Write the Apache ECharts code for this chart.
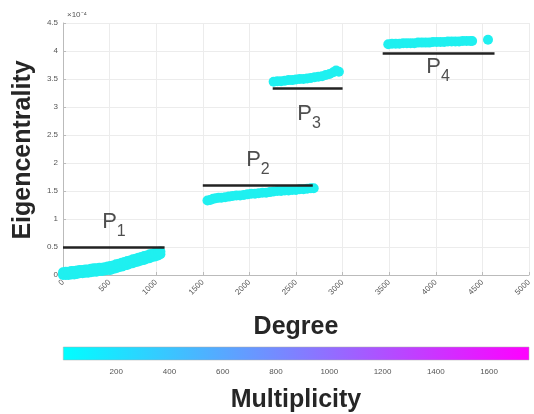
<!DOCTYPE html>
<html><head><meta charset="utf-8">
<script src="https://cdn.jsdelivr.net/npm/echarts@6/dist/echarts.min.js"></script>
<style>html,body{margin:0;padding:0;background:#fff}#c{width:534px;height:414px}</style>
</head><body><div id="c"></div>
<script>
// Degree / Eigencentrality (x10^-4) per group
const p1Deg = [0,30,60,90,120,150,180,210,240,270,300,330,360,390,420,450,480,510,540,570,600,630,660,690,720,750,780,810,840,870,900,930,960,990,1020,1045,
               0,30,60,90,120,150,180,210,240,270,300,330,360,390,420,450,480,510,540,570,600,630,660,690,720,750,780,810,840,870,900,930,960,990,1020,1045];
const p1Eig = [0.00,0.00,0.00,0.01,0.01,0.02,0.03,0.03,0.04,0.04,0.05,0.06,0.06,0.07,0.07,0.08,0.09,0.09,0.11,0.12,0.14,0.15,0.17,0.18,0.20,0.21,0.23,0.24,0.26,0.27,0.29,0.30,0.32,0.33,0.35,0.37,
               0.05,0.06,0.06,0.07,0.07,0.08,0.09,0.09,0.10,0.10,0.11,0.12,0.12,0.13,0.13,0.14,0.15,0.16,0.17,0.19,0.20,0.22,0.23,0.25,0.26,0.28,0.29,0.31,0.32,0.34,0.35,0.37,0.38,0.40,0.41,0.42];
const p2Deg = [1550,1580,1610,1640,1670,1700,1740,1780,1820,1860,1900,1940,1980,2020,2060,2100,2140,2180,2220,2260,2300,2340,2380,2420,2460,2500,2540,2580,2620,2660,2690];
const p2Eig = [1.33,1.34,1.36,1.37,1.38,1.38,1.39,1.40,1.41,1.42,1.42,1.43,1.44,1.45,1.45,1.46,1.47,1.47,1.48,1.49,1.50,1.50,1.51,1.51,1.52,1.52,1.53,1.53,1.54,1.55,1.55];
const p3Deg = [2260,2300,2340,2380,2420,2460,2500,2540,2580,2620,2660,2700,2740,2780,2820,2860,2900,2930,2960];
const p3Eig = [3.45,3.46,3.46,3.47,3.48,3.48,3.49,3.50,3.50,3.51,3.52,3.53,3.54,3.55,3.57,3.59,3.62,3.65,3.63];
const p4Deg = [3490,3530,3570,3610,3650,3690,3730,3770,3810,3850,3890,3930,3970,4010,4050,4090,4130,4170,4210,4250,4290,4330,4370,4390,4560];
const p4Eig = [4.12,4.13,4.13,4.13,4.14,4.14,4.14,4.14,4.15,4.15,4.15,4.15,4.16,4.16,4.16,4.16,4.17,4.17,4.17,4.17,4.18,4.18,4.18,4.18,4.20];

// Group threshold lines
const lineY = [0.5, 1.6, 3.33, 3.96];
const lineX0 = [0, 1500, 2250, 3430];
const lineX1 = [1090, 2680, 3000, 4630];

// Group labels
const groupNames = ['1','2','3','4'];
const labelDeg = [547, 2092, 2640, 4024];
const labelEig = [0.89, 2.0, 2.82, 3.66];

// Ticks
const xTicks = [0,500,1000,1500,2000,2500,3000,3500,4000,4500,5000];
const yTicks = [0,0.5,1,1.5,2,2.5,3,3.5,4,4.5];
const cbTicks = [200,400,600,800,1000,1200,1400,1600];
const cbMin = 1, cbMax = 1750;

const toPts = (xs, ys) => xs.map((x,i)=>[x, ys[i]]);
const allPts = [].concat(toPts(p1Deg,p1Eig), toPts(p2Deg,p2Eig), toPts(p3Deg,p3Eig), toPts(p4Deg,p4Eig));

const tickLbl = {color:'#555', fontSize:8, fontFamily:'Liberation Sans'};
const chart = echarts.init(document.getElementById('c'));
chart.setOption({
  animation:false,
  backgroundColor:'#fff',
  grid:[
    {left:63, right:5, top:23, bottom:139},
    {left:63, right:5, top:347, bottom:50}
  ],
  xAxis:[
    {gridIndex:0, type:'value', min:0, max:5000, interval:500,
     name:'Degree', nameLocation:'middle', nameGap:40,
     nameTextStyle:{fontSize:25, fontWeight:'bold', color:'#262626', fontFamily:'Liberation Sans'},
     axisLine:{lineStyle:{color:'#bbb'}}, axisTick:{inside:true, length:3, lineStyle:{color:'#bbb'}},
     axisLabel:Object.assign({rotate:45, margin:6, formatter:v=>xTicks.indexOf(v)>=0?String(v):''}, tickLbl),
     splitLine:{lineStyle:{color:'#ececec'}}},
    {gridIndex:1, type:'value', min:0, max:cbMax, interval:200,
     name:'Multiplicity', nameLocation:'middle', nameGap:28,
     nameTextStyle:{fontSize:25, fontWeight:'bold', color:'#262626', fontFamily:'Liberation Sans'},
     axisLine:{show:false}, axisTick:{show:false},
     axisLabel:Object.assign({margin:8, formatter:v=>cbTicks.indexOf(v)>=0?String(v):''}, tickLbl),
     splitLine:{show:false}}
  ],
  yAxis:[
    {gridIndex:0, type:'value', min:0, max:4.5, interval:0.5,
     name:'×10⁻⁴', nameLocation:'end', nameGap:4,
     nameTextStyle:{fontSize:8, color:'#555', align:'left', padding:[0,0,0,4]},
     axisLine:{show:true, lineStyle:{color:'#bbb'}}, axisTick:{show:true, inside:true, length:3, lineStyle:{color:'#bbb'}},
     axisLabel:Object.assign({margin:5, formatter:v=>yTicks.indexOf(v)>=0?String(v):''}, tickLbl),
     splitLine:{lineStyle:{color:'#ececec'}}},
    {gridIndex:1, type:'value', min:0, max:1, show:false}
  ],
  graphic:[
    {type:'text', x:23, y:150, rotation:Math.PI/2,
     style:{text:'Eigencentrality', fontSize:25, fontWeight:'bold', fill:'#262626', fontFamily:'Liberation Sans', textAlign:'center', textVerticalAlign:'middle'}}
  ],
  series:[
    {type:'scatter', xAxisIndex:0, yAxisIndex:0, data:allPts, symbolSize:10,
     itemStyle:{color:'#1ff0f0', opacity:1}, z:2},
    {type:'line', xAxisIndex:0, yAxisIndex:0, data:[], z:3,
     markLine:{symbol:'none', silent:true, label:{show:false},
       lineStyle:{color:'#222', width:2.5, type:'solid'},
       data:lineY.map((y,i)=>[{coord:[lineX0[i],y]},{coord:[lineX1[i],y]}])}},
    {type:'scatter', xAxisIndex:0, yAxisIndex:0, symbolSize:0, z:4,
     data:labelDeg.map((d,i)=>({value:[d,labelEig[i]], name:groupNames[i]})),
     label:{show:true, position:'inside', formatter:p=>'{p|P}{s|'+p.name+'}',
       rich:{p:{fontSize:22, color:'#222', verticalAlign:'top', fontFamily:'Liberation Sans'},
             s:{fontSize:16, color:'#222', verticalAlign:'top', padding:[13,0,0,0], fontFamily:'Liberation Sans'}}}},
    {type:'line', xAxisIndex:1, yAxisIndex:1, data:[],
     markArea:{silent:true,
       itemStyle:{borderColor:'#aaa', borderWidth:0.5,
         color:{type:'linear', x:0, y:0, x2:1, y2:0, colorStops:[{offset:0,color:'#00ffff'},{offset:0.5,color:'#7f80ff'},{offset:1,color:'#ff00ff'}]}},
       data:[[{coord:[cbMin,0]},{coord:[cbMax,1]}]]}}
  ]
});
</script></body></html>
